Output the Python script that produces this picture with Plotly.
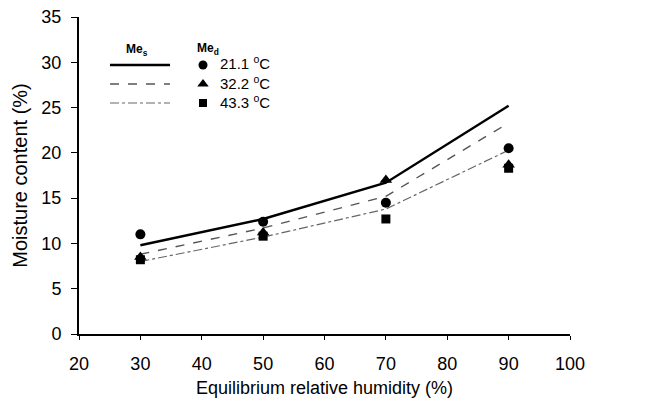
import plotly.graph_objects as go

# Equilibrium relative humidity (%)
erh = [30, 50, 70, 90]

# Sorption model curves (Me_s) for each temperature
mes_211 = [9.8, 12.7, 16.7, 25.2]
mes_322 = [8.8, 11.7, 15.2, 23.3]
mes_433 = [8.0, 10.7, 13.8, 20.3]

# Measured desorption moisture content (Me_d)
med_211 = [11.0, 12.4, 14.5, 20.5]
med_322 = [8.5, 11.2, 17.0, 18.7]
med_433 = [8.2, 10.8, 12.7, 18.3]

temps = ["21.1", "32.2", "43.3"]
x_ticks = [20, 30, 40, 50, 60, 70, 80, 90, 100]
y_ticks = [0, 5, 10, 15, 20, 25, 30, 35]

FONT = "Liberation Sans, Arial, sans-serif"

fig = go.Figure()

line_styles = [
    dict(color="black", width=2.4, dash="solid"),
    dict(color="#555555", width=1.4, dash="dash"),
    dict(color="#666666", width=1.2, dash="dashdot"),
]
for ys, ls in zip([mes_211, mes_322, mes_433], line_styles):
    fig.add_trace(go.Scatter(x=erh, y=ys, mode="lines", line=ls,
                             showlegend=False, hoverinfo="skip"))

marker_styles = [
    dict(symbol="circle", size=10, color="black"),
    dict(symbol="triangle-up", size=11, color="black"),
    dict(symbol="square", size=9, color="black"),
]
for ys, ms in zip([med_211, med_322, med_433], marker_styles):
    fig.add_trace(go.Scatter(x=erh, y=ys, mode="markers", marker=ms,
                             showlegend=False))

# Hand-built two-column key: model lines on the left, measured points on the right
W, H = 664, 402
L, R, T, B = 79, 94, 17, 68
pw, ph = W - L - R, H - T - B


def px(xp):
    return (xp - L) / pw


def py(yp):
    return 1 - (yp - T) / ph


fig.add_annotation(x=px(137), y=py(50), xref="paper", yref="paper",
                   xanchor="center", yanchor="middle",
                   text="<b>Me<sub>s</sub></b>", showarrow=False,
                   font=dict(family=FONT, size=12, color="black"))
fig.add_annotation(x=px(208), y=py(49), xref="paper", yref="paper",
                   xanchor="center", yanchor="middle",
                   text="<b>Me<sub>d</sub></b>", showarrow=False,
                   font=dict(family=FONT, size=12, color="black"))

key_rows = [65, 84, 103]
for yrow, ls, ms, t in zip(key_rows, line_styles, marker_styles, temps):
    fig.add_shape(type="line", xref="paper", yref="paper",
                  x0=px(110), x1=px(170), y0=py(yrow), y1=py(yrow),
                  line=ls)
    fig.add_trace(go.Scatter(x=[px(203)], y=[py(yrow)], xaxis="x2", yaxis="y2",
                             mode="markers",
                             marker=dict(symbol=ms["symbol"], size=ms["size"] - 1,
                                         color="black"),
                             showlegend=False, hoverinfo="skip"))
    fig.add_annotation(x=px(218), y=py(yrow - 2), xref="paper", yref="paper",
                       xanchor="left", yanchor="middle",
                       text=f"{t} <sup>o</sup>C", showarrow=False,
                       font=dict(family=FONT, size=15, color="black"))

fig.update_layout(
    width=W, height=H,
    margin=dict(l=L, r=R, t=T, b=B, autoexpand=False),
    plot_bgcolor="white", paper_bgcolor="white",
    font=dict(family=FONT, color="black"),
    xaxis=dict(range=[20, 100], tickvals=x_ticks, showgrid=False, zeroline=False,
               showline=True, linecolor="black", linewidth=2,
               ticks="outside", ticklen=4, tickcolor="black",
               ticklabelstandoff=8, automargin=False,
               tickfont=dict(size=18, family=FONT),
               title=dict(text="Equilibrium relative humidity (%)",
                          font=dict(size=18, family=FONT), standoff=9)),
    yaxis=dict(range=[0, 35], tickvals=y_ticks, showgrid=False, zeroline=False,
               showline=True, linecolor="black", linewidth=2,
               ticks="outside", ticklen=6, tickcolor="black",
               ticklabelstandoff=6, automargin=False,
               tickfont=dict(size=18, family=FONT),
               title=dict(text="Moisture content (%)",
                          font=dict(size=20, family=FONT), standoff=8)),
    xaxis2=dict(range=[0, 1], overlaying="x", visible=False),
    yaxis2=dict(range=[0, 1], overlaying="y", visible=False),
)

fig.write_html("out.html")
